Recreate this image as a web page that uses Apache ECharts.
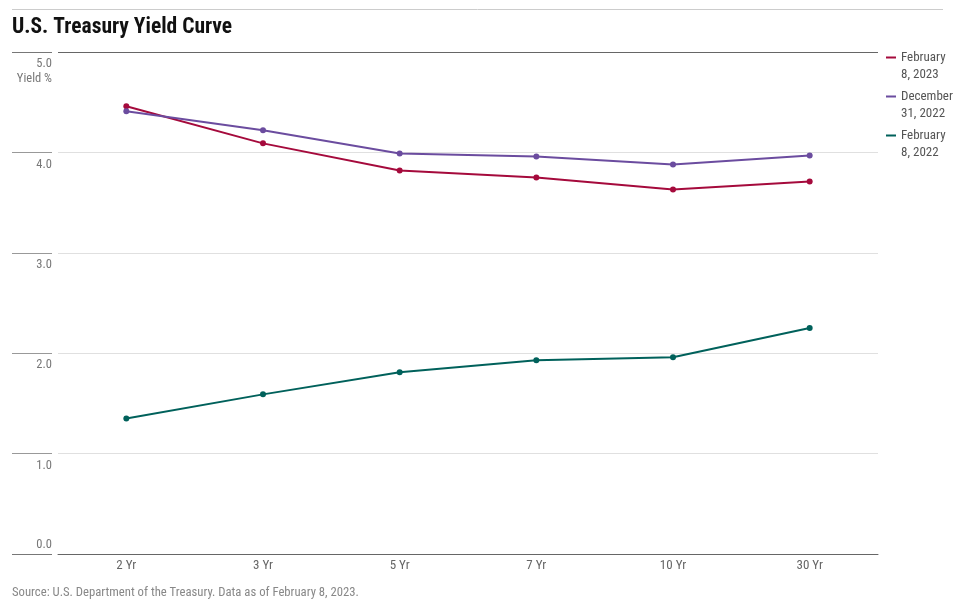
<!DOCTYPE html>
<html>
<head>
<meta charset="utf-8">
<script src="https://cdn.jsdelivr.net/npm/echarts@6/dist/echarts.min.js"></script>
<style>html,body{margin:0;padding:0;background:#fff}#c{width:955px;height:607px}</style>
</head>
<body>
<div id="c"></div>
<script>
const categories = ['2 Yr', '3 Yr', '5 Yr', '7 Yr', '10 Yr', '30 Yr'];
const feb2023 = [4.46, 4.09, 3.82, 3.75, 3.63, 3.71];
const dec2022 = [4.41, 4.22, 3.99, 3.96, 3.88, 3.97];
const feb2022 = [1.35, 1.59, 1.81, 1.93, 1.96, 2.25];
const seriesNames = ['February\n8, 2023', 'December\n31, 2022', 'February\n8, 2022'];
const colors = ['#A50A3C', '#6B4C9F', '#00615B'];
const FONT = '"Liberation Sans Narrow", "Roboto Condensed", Roboto, sans-serif';

const chart = echarts.init(document.getElementById('c'));
const legendIcon = 'path://M0,0H0.01V0.01H0Z M0,7.5H10V9.5H0Z M0,34H0.01V34.01H0Z';

chart.setOption({
  animation: false,
  textStyle: { fontFamily: FONT },
  title: {
    text: 'U.S. Treasury Yield Curve',
    left: 12, top: 17, padding: 0,
    textStyle: { fontFamily: FONT, fontSize: 21.5, fontWeight: 'bold', color: '#111' }
  },
  legend: {
    orient: 'vertical',
    left: 886, top: 49, padding: 0,
    itemWidth: 10, itemHeight: 34, itemGap: 5,
    icon: legendIcon,
    data: seriesNames,
    textStyle: { fontFamily: FONT, fontSize: 13, lineHeight: 17, color: '#555' }
  },
  grid: [
    { left: 58, right: 77, top: 52, bottom: 53 },
    { left: 12, width: 40, top: 52, bottom: 53 }
  ],
  xAxis: [
    {
      type: 'category', data: categories, gridIndex: 0, boundaryGap: true,
      axisLine: { lineStyle: { color: '#666', width: 1 } },
      axisTick: { show: false },
      axisLabel: { color: '#666', fontSize: 13, margin: 5, fontFamily: FONT }
    },
    { type: 'value', gridIndex: 1, min: 0, max: 1, show: false }
  ],
  yAxis: [
    {
      type: 'value', gridIndex: 0, min: 0, max: 5, interval: 1,
      axisLine: { show: false }, axisTick: { show: false },
      splitLine: { lineStyle: { color: ['#666', '#e0e0e0', '#e0e0e0', '#e0e0e0', '#e0e0e0', '#666'], width: 1 } },
      axisLabel: {
        color: '#777', fontSize: 12.5, margin: 6, align: 'right', verticalAlign: 'top',
        lineHeight: 15, padding: [4.5, 0, 0, 0], fontFamily: FONT,
        formatter: v => v === 0 ? '' : (v === 5 ? '5.0\nYield %' : v.toFixed(1))
      }
    },
    {
      type: 'value', gridIndex: 1, min: 0, max: 5, interval: 1,
      axisLine: { show: false }, axisTick: { show: false },
      axisLabel: {
        color: '#777', fontSize: 12.5, margin: -40, align: 'right', verticalAlign: 'bottom',
        lineHeight: 12, padding: [0, 0, 3, 0], fontFamily: FONT,
        formatter: v => v === 0 ? '0.0' : ''
      },
      splitLine: { lineStyle: { color: ['#777', '#999', '#999', '#999', '#999', '#777'], width: 1 } }
    }
  ],
  series: [
    { name: seriesNames[0], type: 'line', data: feb2023 },
    { name: seriesNames[1], type: 'line', data: dec2022 },
    { name: seriesNames[2], type: 'line', data: feb2022 }
  ].map((s, i) => Object.assign(s, {
    xAxisIndex: 0, yAxisIndex: 0,
    symbol: 'circle', symbolSize: 6,
    color: colors[i],
    lineStyle: { width: 2, color: colors[i] },
    itemStyle: { color: colors[i] }
  })),
  graphic: [
    { type: 'line', shape: { x1: 12, y1: 9.5, x2: 943, y2: 9.5 }, style: { stroke: '#ccc', lineWidth: 1 } },
    {
      type: 'text', left: 12, top: 586,
      style: { text: 'Source: U.S. Department of the Treasury. Data as of February 8, 2023.', fill: '#888', fontSize: 12.7, fontFamily: FONT }
    }
  ]
});
</script>
</body>
</html>
